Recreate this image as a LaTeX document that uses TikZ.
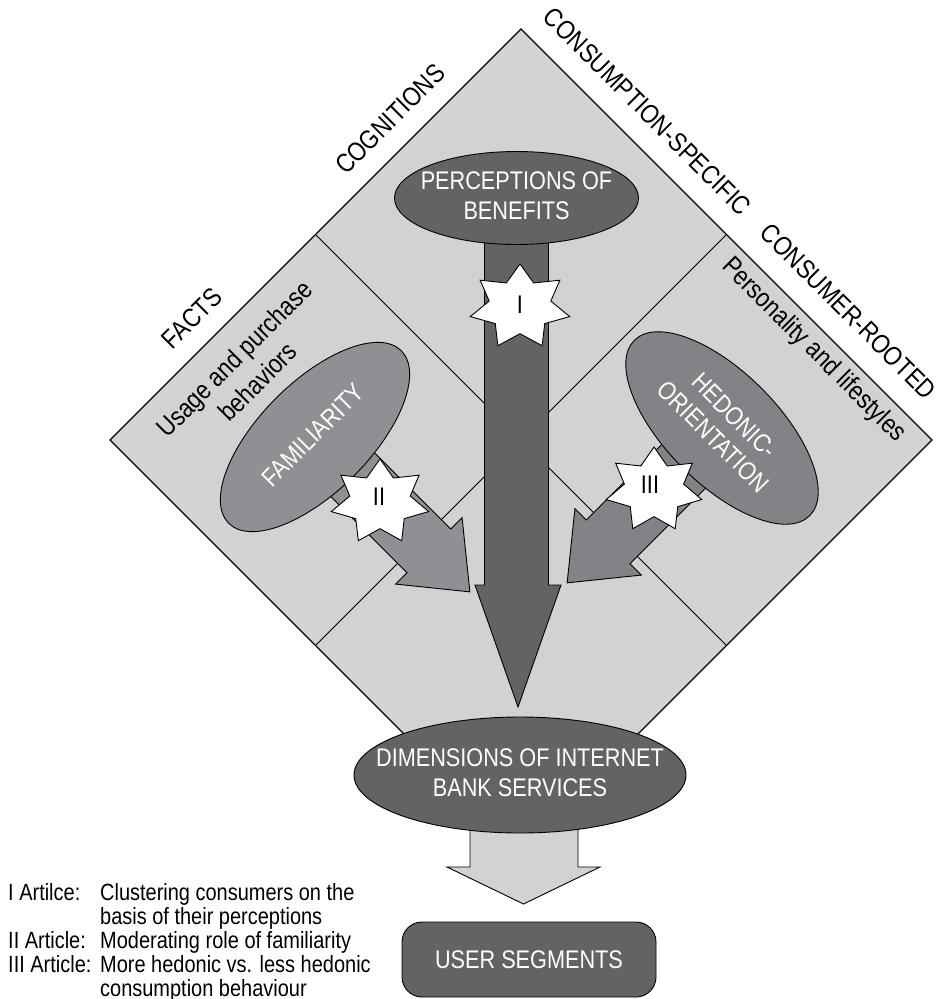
\documentclass[tikz,border=0pt]{standalone}
\usepackage{fontspec}
\setmainfont{Liberation Sans}[FakeStretch=0.85]
\usetikzlibrary{shapes.geometric,calc}
\definecolor{lightg}{RGB}{209,210,212}
\definecolor{darkg}{RGB}{98,99,101}
\definecolor{famg}{RGB}{143,144,148}
\definecolor{hedg}{RGB}{130,131,135}
\newcommand{\zw}[1]{\makebox[0pt]{\begin{tabular}{@{}c@{}}#1\end{tabular}}}
\newcommand{\sevstar}[4]{%
  \draw[starsty] plot[variable=\k, samples at={0,...,13}]
    ({#1+#3*(1-0.38*mod(\k,2))*cos(90+\k*360/14)},
     {#2-#4*(1-0.38*mod(\k,2))*sin(90+\k*360/14)}) -- cycle;}
\begin{document}
\begin{tikzpicture}[x=1pt,y=-1pt,
  ellbox/.style={ellipse, draw=black, line width=0.9pt, inner sep=0pt,
    text=white, font=\fontsize{25.5}{30}\selectfont},
  lbl/.style={inner sep=0pt, font=\fontsize{26.5}{33}\selectfont},
  starlbl/.style={inner sep=0pt, font=\fontsize{25.5}{30}\selectfont},
  starsty/.style={fill=white, draw=black, line width=0.9pt, line join=miter},
  blockarrow/.style={draw=black, line width=0.9pt, line join=miter}]
\useasboundingbox (0,0) rectangle (937,999);

% diamond
\coordinate (dT) at (521,29);
\coordinate (dR) at (932,440);
\coordinate (dB) at (521,851);
\coordinate (dL) at (110,440);
\draw[fill=lightg, line width=1.1pt] (dT) -- (dR) -- (dB) -- (dL) -- cycle;
\draw[line width=0.9pt] ($(dT)!0.5!(dL)$) -- ($(dR)!0.5!(dB)$);
\draw[line width=0.9pt] ($(dT)!0.5!(dR)$) -- ($(dL)!0.5!(dB)$);

% centres
\coordinate (cPerc) at (516.5,198);
\coordinate (cFam) at (315,437);
\coordinate (cHed) at (722,428);
\coordinate (cDim) at (520,775);

% big arrow from perceptions
\begin{scope}[shift={(cPerc)}]
\draw[blockarrow, fill=darkg] (-32,0) -- (-32,387) -- (-41.5,387) -- (1.5,509)
  -- (44.5,387) -- (32,387) -- (32,0) -- cycle;
\end{scope}
% familiarity arrow
\begin{scope}[shift={(cFam)}, rotate=-45]
\draw[blockarrow, fill=famg] (0,-31) -- (161,-31) -- (161,-47) -- (219,0)
  -- (161,47) -- (161,31) -- (0,31) -- cycle;
\end{scope}
% hedonic arrow
\begin{scope}[shift={(cHed)}, rotate=-135]
\draw[blockarrow, fill=hedg] (0,-31) -- (161,-31) -- (161,-47) -- (219,0)
  -- (161,47) -- (161,31) -- (0,31) -- cycle;
\end{scope}
% arrow to user segments
\begin{scope}[shift={(cDim)}]
\draw[blockarrow, fill=lightg] (-50,0) -- (-50,92) -- (-73,92) -- (3.5,129)
  -- (80,92) -- (58,92) -- (58,0) -- cycle;
\end{scope}

% ellipses
\node[ellbox, fill=darkg, minimum width=244pt, minimum height=93pt] (perc) at (cPerc)
  {\zw{PERCEPTIONS OF\\BENEFITS}};
\node[ellbox, fill=famg, minimum width=244pt, minimum height=110pt, rotate=45] (fam) at (cFam)
  {\zw{FAMILIARITY}};
\node[ellbox, fill=hedg, minimum width=248pt, minimum height=112pt, rotate=-45] (hed) at (cHed)
  {\zw{HEDONIC-\\ORIENTATION}};
\node[ellbox, fill=darkg, minimum width=332pt, minimum height=116pt] (dim) at (cDim)
  {\zw{DIMENSIONS OF INTERNET\\BANK SERVICES}};
\node[rectangle, rounded corners=20pt, draw=black, line width=0.9pt, fill=darkg,
  text=white, minimum width=254pt, minimum height=75pt, inner sep=0pt,
  font=\fontsize{25.5}{30}\selectfont] (seg) at (529,959.5) {USER SEGMENTS};

% stars
\sevstar{520}{307}{51}{43}
\node[starlbl] (s1) at (520,305) {I};
\sevstar{380}{502}{50}{43}
\node[starlbl] (s2) at (379,497) {II};
\sevstar{654}{490}{49}{43}
\node[starlbl] (s3) at (650,485) {III};

% outer labels
\node[lbl, rotate=45] (cog) at (390,119) {COGNITIONS};
\node[lbl, rotate=45] (facts) at (192,318) {FACTS};
\node[lbl, rotate=-45] (cspec) at (647.5,111.5) {CONSUMPTION-SPECIFIC};
\node[lbl, rotate=-45] (croot) at (848.5,311.5) {CONSUMER-ROOTED};
\node[lbl, rotate=45, align=center] (usage) at (246,370) {Usage and purchase\\behaviors};
\node[lbl, rotate=-45] (pers) at (813.5,350.5) {Personality and lifestyles};

% legend
\renewcommand{\arraystretch}{1}
\node[anchor=north west, inner sep=0pt, font=\fontsize{23.5}{23.5}\selectfont] (legend) at (8,883)
  {\begin{tabular}{@{}p{92pt}@{}l@{}}
   I Artilce: & Clustering consumers on the\\
              & basis of their perceptions\\
   II Article: & Moderating role of familiarity\\
   III Article: & More hedonic vs. less hedonic\\
              & consumption behaviour
   \end{tabular}};
\end{tikzpicture}
\end{document}
